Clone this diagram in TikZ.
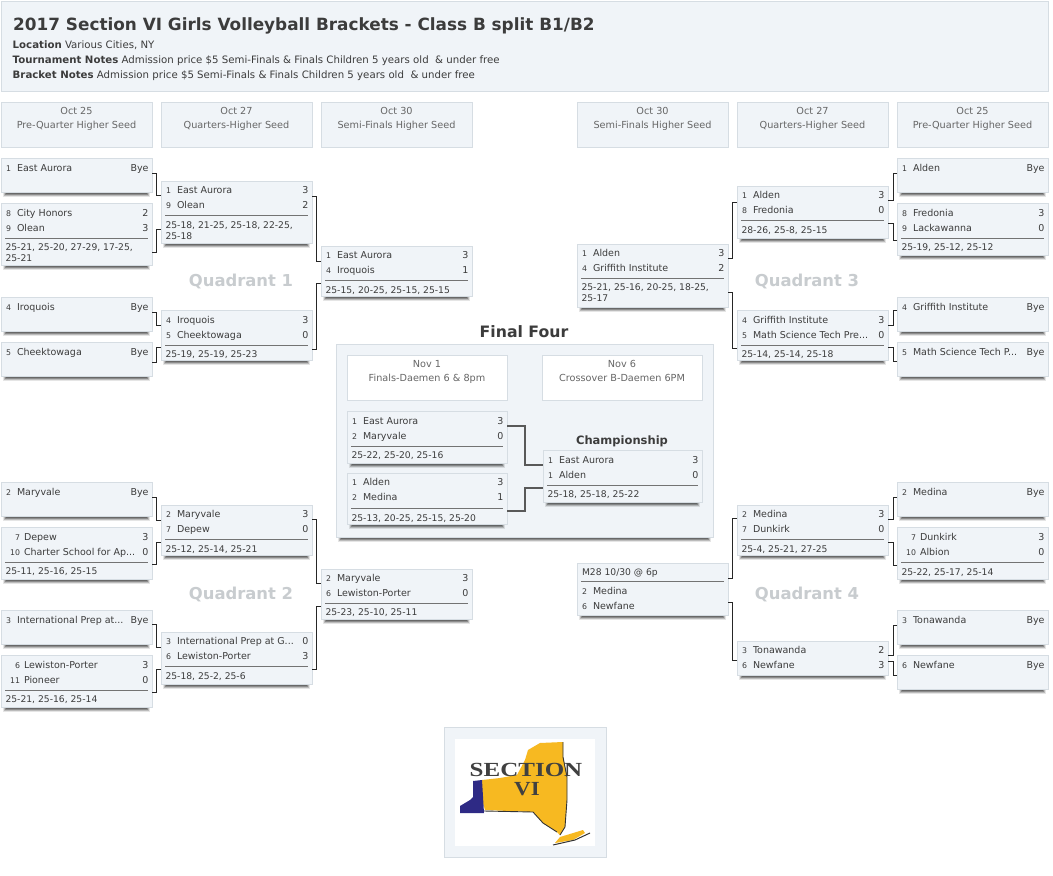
\documentclass[tikz,border=0pt]{standalone}
\usepackage{fontspec}
\usetikzlibrary{calc}
\setmainfont{DejaVu Sans}
\newfontfamily\logofont{Liberation Serif}
\definecolor{panel}{HTML}{F0F4F8}
\definecolor{edge}{HTML}{D6DDE3}
\definecolor{ink}{HTML}{3C3C3C}
\definecolor{hd}{HTML}{666666}
\definecolor{quad}{HTML}{C8CCCF}
\definecolor{nyyellow}{HTML}{F7B921}
\definecolor{nyblue}{HTML}{2E2A85}
\tikzset{
  x=1pt,y=-1pt,
  boxnode/.style={draw=edge,fill=panel,line width=.7pt,anchor=north west,inner sep=0pt,outer sep=0pt},
  txt/.style={inner sep=0pt,outer sep=0pt,text=ink,font=\fontsize{9.5}{11}\selectfont},
  seedt/.style={inner sep=0pt,outer sep=0pt,text=ink,font=\fontsize{7.8}{9}\selectfont},
  small/.style={inner sep=0pt,outer sep=0pt,text=ink,font=\fontsize{9.2}{11}\selectfont,align=left,anchor=north west},
  hdtext/.style={inner sep=0pt,outer sep=0pt,text=hd,font=\fontsize{9.7}{14}\selectfont,align=center,anchor=north},
  conn/.style={draw=black!85,line width=.8pt},
  fconn/.style={draw=black!65,line width=1.1pt},
  quadt/.style={inner sep=0pt,text=quad,font=\bfseries\fontsize{16.4}{18}\selectfont},
  ttl/.style={inner sep=0pt,text=ink,font=\bfseries\fontsize{16.85}{18}\selectfont},
  rulel/.style={draw=black!55,line width=.8pt},
}
\def\W{151}
% box with soft bottom shadow
\newcommand\tbox[4]{% id,x,y,h
  \fill[black,opacity=.10] (#2+2,#3+#4) rectangle (#2+\W-2,#3+#4+5);
  \fill[black,opacity=.18] (#2+3,#3+#4) rectangle (#2+\W-3,#3+#4+4);
  \fill[black,opacity=.25] (#2+4,#3+#4) rectangle (#2+\W-4,#3+#4+3);
  \fill[black,opacity=.25] (#2+5,#3+#4) rectangle (#2+\W-5,#3+#4+2);
  \node[boxnode,minimum width=\W pt,minimum height=#4 pt] (#1) at (#2,#3) {};
}
\newcommand\trow[5]{% x,y,seed,team,score
  \node[seedt,anchor=base east] at (#1+10,#2+3.2) {#3};
  \node[txt,anchor=base west] at (#1+16,#2+3.2) {#4};
  \node[txt,anchor=base east] at (#1+\W-3.5,#2+3.2) {#5};
}
\newcommand\wrow[5]{% wider seed column
  \node[seedt,anchor=base east] at (#1+19,#2+3.2) {#3};
  \node[txt,anchor=base west] at (#1+23,#2+3.2) {#4};
  \node[txt,anchor=base east] at (#1+\W-3.5,#2+3.2) {#5};
}
\newcommand\trl[2]{\draw[rulel] (#1+4,#2) -- (#1+\W-4,#2);}
\newcommand\tsc[3]{\node[small] at (#1+4.5,#2) {#3};}
\newcommand\hdbox[6]{% id,x,y,w,fill,date/text
  \node[boxnode,fill=#5,minimum width=#4 pt,minimum height=45pt] (#1) at (#2,#3) {};
  \node[hdtext] at (#2+#4/2,#3+5) {#6};
}
\newcommand\cR[4]{\draw[conn] ($(#1.north east)+(0,#2)$) -- ++(4.6,0) |- ($(#3.north west)+(0,#4)$);}
\newcommand\cL[4]{\draw[conn] ($(#1.north west)+(0,#2)$) -- ++(-3.2,0) |- ($(#3.north east)+(0,#4)$);}
\newcommand\cM[4]{\draw[conn] ($(#1.north west)+(0,#2)$) -- ++(-4.8,0) |- ($(#3.north east)+(0,#4)$);}
\begin{document}
\begin{tikzpicture}
\useasboundingbox (0,0) rectangle (1053,876);
\fill[white] (0,0) rectangle (1053,876);
% page header
\node[boxnode,minimum width=1047pt,minimum height=90pt] (head) at (1,1) {};
\node[ttl,anchor=base west] (title) at (13,30) {2017 Section VI Girls Volleyball Brackets - Class B split B1/B2};
\begin{scope}[every node/.style={inner sep=0pt,text=ink,font=\fontsize{10.2}{11}\selectfont,anchor=base west}]
\node (loc) at (12.5,48) {\textbf{Location} Various Cities, NY};
\node (tn) at (12.5,63) {\textbf{Tournament Notes} Admission price \$5 Semi-Finals \& Finals Children 5 years old\ \ \& under free};
\node (bn) at (12.5,78) {\textbf{Bracket Notes} Admission price \$5 Semi-Finals \& Finals Children 5 years old\ \ \& under free};
\end{scope}
% round headers
\hdbox{h1}{1}{102}{151}{panel}{Oct 25\\Pre-Quarter Higher Seed}
\hdbox{h2}{161}{102}{151}{panel}{Oct 27\\Quarters-Higher Seed}
\hdbox{h3}{321}{102}{151}{panel}{Oct 30\\Semi-Finals Higher Seed}
\hdbox{h4}{577}{102}{151}{panel}{Oct 30\\Semi-Finals Higher Seed}
\hdbox{h5}{737}{102}{151}{panel}{Oct 27\\Quarters-Higher Seed}
\hdbox{h6}{897}{102}{151}{panel}{Oct 25\\Pre-Quarter Higher Seed}
% Quadrant labels
\node[quadt] (q1) at (241,281) {Quadrant 1};
\node[quadt] (q2) at (241,594) {Quadrant 2};
\node[quadt] (q3) at (807,281) {Quadrant 3};
\node[quadt] (q4) at (807,594) {Quadrant 4};
% Q1
\tbox{a1}{1}{158}{34}\trow{1}{168}{1}{East Aurora}{Bye}
\tbox{a2}{1}{203}{62}\trow{1}{213}{8}{City Honors}{2}\trow{1}{228}{9}{Olean}{3}\trl{1}{238}\tsc{1}{243.5}{25-21, 25-20, 27-29, 17-25,\\25-21}
\tbox{a3}{1}{297}{34}\trow{1}{307}{4}{Iroquois}{Bye}
\tbox{a4}{1}{342}{34}\trow{1}{352}{5}{Cheektowaga}{Bye}
\tbox{b1}{161}{181}{62}\trow{161}{190}{1}{East Aurora}{3}\trow{161}{205}{9}{Olean}{2}\trl{161}{215}\tsc{161}{221.5}{25-18, 21-25, 25-18, 22-25,\\25-18}
\tbox{b2}{161}{310}{50}\trow{161}{320}{4}{Iroquois}{3}\trow{161}{335}{5}{Cheektowaga}{0}\trl{161}{345}\tsc{161}{350.5}{25-19, 25-19, 25-23}
\tbox{c1}{321}{246}{50}\trow{321}{255}{1}{East Aurora}{3}\trow{321}{270}{4}{Iroquois}{1}\trl{321}{280}\tsc{321}{286.5}{25-15, 20-25, 25-15, 25-15}
% Q2
\tbox{d1}{1}{482}{34}\trow{1}{492}{2}{Maryvale}{Bye}
\tbox{d2}{1}{527}{52}\wrow{1}{537}{7}{Depew}{3}\wrow{1}{552}{10}{Charter School for Ap...}{0}\trl{1}{562}\tsc{1}{567.5}{25-11, 25-16, 25-15}
\tbox{d3}{1}{610}{34}\trow{1}{620}{3}{International Prep at...}{Bye}
\tbox{d4}{1}{655}{52}\wrow{1}{665}{6}{Lewiston-Porter}{3}\wrow{1}{680}{11}{Pioneer}{0}\trl{1}{690}\tsc{1}{695.5}{25-21, 25-16, 25-14}
\tbox{e1}{161}{505}{50}\trow{161}{514}{2}{Maryvale}{3}\trow{161}{529}{7}{Depew}{0}\trl{161}{539}\tsc{161}{545.5}{25-12, 25-14, 25-21}
\tbox{e2}{161}{632}{52}\trow{161}{641}{3}{International Prep at G...}{0}\trow{161}{656}{6}{Lewiston-Porter}{3}\trl{161}{666}\tsc{161}{672.5}{25-18, 25-2, 25-6}
\tbox{f1}{321}{569}{50}\trow{321}{578}{2}{Maryvale}{3}\trow{321}{593}{6}{Lewiston-Porter}{0}\trl{321}{603}\tsc{321}{608.5}{25-23, 25-10, 25-11}
% Q3
\tbox{g1}{897}{158}{34}\trow{897}{168}{1}{Alden}{Bye}
\tbox{g2}{897}{203}{52}\trow{897}{213}{8}{Fredonia}{3}\trow{897}{228}{9}{Lackawanna}{0}\trl{897}{238}\tsc{897}{243.5}{25-19, 25-12, 25-12}
\tbox{g3}{897}{297}{34}\trow{897}{307}{4}{Griffith Institute}{Bye}
\tbox{g4}{897}{342}{34}\trow{897}{352}{5}{Math Science Tech P...}{Bye}
\tbox{k1}{737}{186}{52}\trow{737}{195}{1}{Alden}{3}\trow{737}{210}{8}{Fredonia}{0}\trl{737}{220}\tsc{737}{226.5}{28-26, 25-8, 25-15}
\tbox{k2}{737}{310}{50}\trow{737}{320}{4}{Griffith Institute}{3}\trow{737}{335}{5}{Math Science Tech Pre...}{0}\trl{737}{345}\tsc{737}{350.5}{25-14, 25-14, 25-18}
\tbox{m1}{577}{244}{63}\trow{577}{253}{1}{Alden}{3}\trow{577}{268}{4}{Griffith Institute}{2}\trl{577}{278}\tsc{577}{283.5}{25-21, 25-16, 20-25, 18-25,\\25-17}
% Q4
\tbox{n1}{897}{482}{34}\trow{897}{492}{2}{Medina}{Bye}
\tbox{n2}{897}{527}{52}\wrow{897}{537}{7}{Dunkirk}{3}\wrow{897}{552}{10}{Albion}{0}\trl{897}{562}\tsc{897}{568.5}{25-22, 25-17, 25-14}
\tbox{n3}{897}{610}{34}\trow{897}{620}{3}{Tonawanda}{Bye}
\tbox{n4}{897}{655}{34}\trow{897}{665}{6}{Newfane}{Bye}
\tbox{p1}{737}{505}{50}\trow{737}{514}{2}{Medina}{3}\trow{737}{529}{7}{Dunkirk}{0}\trl{737}{539}\tsc{737}{545.5}{25-4, 25-21, 27-25}
\tbox{p2}{737}{641}{34}\trow{737}{650}{3}{Tonawanda}{2}\trow{737}{665}{6}{Newfane}{3}
\tbox{r1}{577}{563}{52}\node[small] (m28) at (582,568.5) {M28 10/30 @ 6p};\trl{577}{581}\trow{577}{591}{2}{Medina}{}\trow{577}{606}{6}{Newfane}{}
% connectors
\cR{a1}{15}{b1}{14}
\cR{a2}{49}{b1}{48}
\cR{a3}{15}{b2}{15}
\cR{a4}{20}{b2}{37}
\cR{b1}{15}{c1}{15}
\cR{b2}{39}{c1}{37}
\cR{d1}{15}{e1}{15}
\cR{d2}{37}{e1}{37}
\cR{d3}{14}{e2}{15}
\cR{d4}{37}{e2}{37}
\cR{e1}{14}{f1}{14}
\cR{e2}{37}{f1}{37}
\cL{g1}{15}{k1}{14}
\cL{g2}{37}{k1}{37}
\cL{g3}{13}{k2}{15}
\cL{g4}{19}{k2}{37}
\cM{k1}{16}{m1}{14}
\cM{k2}{38}{m1}{48}
\cL{n1}{15}{p1}{14}
\cL{n2}{38}{p1}{37}
\cL{n3}{15}{p2}{14}
\cL{n4}{20}{p2}{20}
\cM{p1}{13}{r1}{15}
\cM{p2}{19}{r1}{39}
% Final Four
\node[inner sep=0pt,text=ink,font=\bfseries\fontsize{15.7}{18}\selectfont] (ff) at (524,332) {Final Four};
\def\W{377}
\tbox{panelf}{336}{344}{193}
\def\W{160}
\hdbox{fh1}{347}{355}{160}{white}{Nov 1\\Finals-Daemen 6 \& 8pm}
\hdbox{fh2}{542}{355}{160}{white}{Nov 6\\Crossover B-Daemen 6PM}
\tbox{s1}{347}{411}{52}\trow{347}{421}{1}{East Aurora}{3}\trow{347}{436}{2}{Maryvale}{0}\trl{347}{446}\tsc{347}{451.5}{25-22, 25-20, 25-16}
\tbox{s2}{347}{473}{51}\trow{347}{482}{1}{Alden}{3}\trow{347}{497}{2}{Medina}{1}\trl{347}{508}\tsc{347}{514.5}{25-13, 20-25, 25-15, 25-20}
\def\W{159}
\tbox{s3}{543}{450}{52}\trow{543}{460}{1}{East Aurora}{3}\trow{543}{475}{1}{Alden}{0}\trl{543}{485}\tsc{543}{490.5}{25-18, 25-18, 25-22}
\node[inner sep=0pt,text=ink,font=\bfseries\fontsize{11.5}{13}\selectfont] (chmp) at (622,441) {Championship};
\draw[fconn] ($(s1.north east)+(0,15)$) -- ++(18,0) |- ($(s3.north west)+(0,15)$);
\draw[fconn] ($(s2.north east)+(0,38)$) -- ++(18,0) |- ($(s3.north west)+(0,38)$);
% Logo
\node[boxnode,minimum width=162pt,minimum height=130pt] (logo) at (444,727) {};
\fill[white] (455,739) rectangle (595,846);
\fill[nyyellow] (482,780) -- (500,778) -- (517,775) -- (525,760) -- (528,750) -- (540,743) -- (563,742) -- (563,757) -- (567,777) -- (567,800) -- (565,827) -- (560,835) -- (557,832) -- (543,823) -- (533,812) -- (485,810) -- (482,800) -- cycle;
\fill[nyyellow] (555,843) -- (560,837) -- (583,830) -- (585,833) -- (573,840) -- cycle;
\fill[nyblue] (473,781) -- (482,780) -- (484,813) -- (460,813) -- (460,806) -- (470,800) -- (473,797) -- cycle;
\draw[black!80,line width=.9pt] (563,742) -- (563,757) -- (567,777) -- (567,800) -- (565,827) -- (560,835);
\draw[black!80,line width=.9pt] (484,811) -- (533,812) -- (543,823) -- (557,832);
\draw[black!80,line width=1pt] (553,845) -- (575,840) -- (590,833);
\node[inner sep=0pt,text=black!75,xscale=1.25,font=\logofont\bfseries\fontsize{20}{22}\selectfont] (sect) at (526,770) {SECTION};
\node[inner sep=0pt,text=black!75,xscale=1.15,font=\logofont\bfseries\fontsize{20}{22}\selectfont] (vi) at (527,789) {VI};
\end{tikzpicture}
\end{document}
